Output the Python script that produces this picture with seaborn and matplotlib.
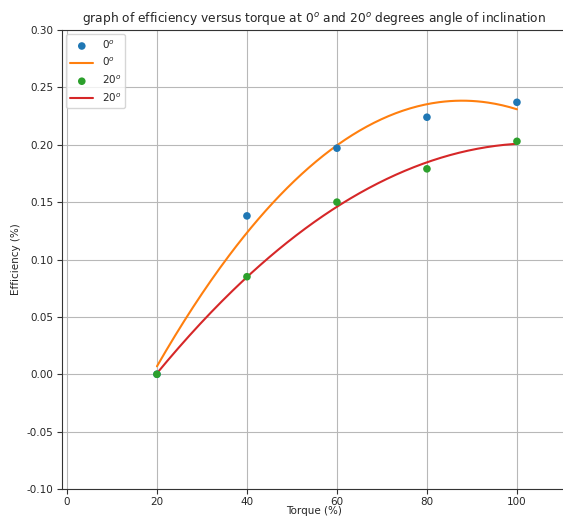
'''efficiency versus torque at two inclination angles'''
import numpy as np
import pandas as pd
import seaborn as sns
import matplotlib
matplotlib.use('Agg')
import matplotlib.pyplot as plt

#region data
torque = [20, 40, 60, 80, 100]
eff_0deg = [0.000, 0.138, 0.197, 0.224, 0.237]
eff_20deg = [0.000, 0.085, 0.150, 0.179, 0.203]
lbl_0 = '$0^o$'
lbl_20 = '$20^o$'
#endregion

sns.set_style('ticks', {'axes.grid': True, 'grid.color': '#b8b8b8', 'axes.edgecolor': '#333333'})
plt.rcParams['font.family'] = ['DejaVu Sans']

fig = plt.figure(figsize=(5.63, 5.17), dpi=100)
ax = fig.add_axes([62 / 563, 1 - 489 / 517, (566 - 62) / 563, (489 - 30) / 517])

# quadratic fit through the measured points, as in the original
xs = np.linspace(min(torque), max(torque), 200)
fit0 = np.polyval(np.polyfit(torque, eff_0deg, 2), xs)
fit20 = np.polyval(np.polyfit(torque, eff_20deg, 2), xs)

sns.scatterplot(x=torque, y=eff_0deg, ax=ax, color='C0', s=30, edgecolor='none', label=lbl_0, zorder=3)
sns.lineplot(x=xs, y=fit0, ax=ax, color='C1', lw=1.5, label=lbl_0)
sns.scatterplot(x=torque, y=eff_20deg, ax=ax, color='C2', s=30, edgecolor='none', label=lbl_20, zorder=3)
sns.lineplot(x=xs, y=fit20, ax=ax, color='C3', lw=1.5, label=lbl_20)

ax.set_xlim(-1.1, 110.9)
ax.set_ylim(-0.10, 0.30)
ax.set_xticks([0, 20, 40, 60, 80, 100])
ax.set_yticks(np.arange(-0.10, 0.301, 0.05))
ax.yaxis.set_major_formatter(matplotlib.ticker.FormatStrFormatter('%.2f'))
ax.tick_params(labelsize=7.5, length=3.5, color='#333333', pad=2.5)
ax.set_xlabel('Torque (%)', fontsize=7.5, labelpad=-1)
ax.set_ylabel('Efficiency (%)', fontsize=7.5)
ax.set_title('graph of efficiency versus torque at $0^o$ and $20^o$ degrees angle of inclination', fontsize=8.8, pad=6)
ax.legend(loc='upper left', fontsize=7.5, frameon=True, borderaxespad=0.4, handlelength=2.2)

fig.savefig('out.png', dpi=100)
